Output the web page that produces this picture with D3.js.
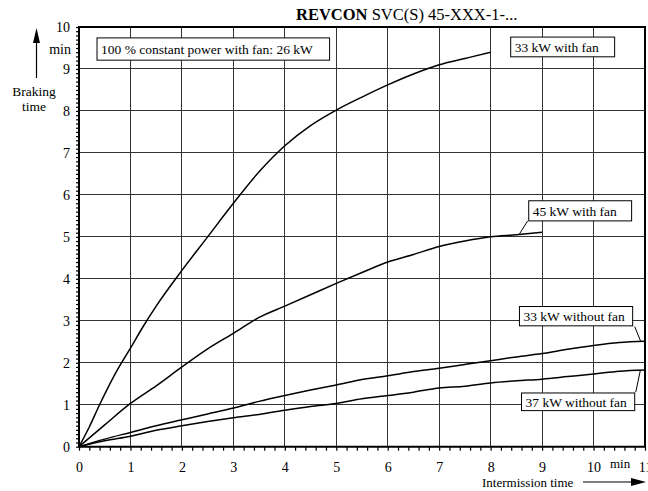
<!DOCTYPE html>
<html>
<head>
<meta charset="utf-8">
<script src="https://cdn.jsdelivr.net/npm/d3@7"></script>
<style>
  body { margin: 0; background: #fff; }
  svg { display: block; }
</style>
</head>
<body>
<div id="mychart"></div>
<script>
// curves: [intermission time (min), braking time (min)]
const fan33 = [[0,0],[0.2,0.47],[0.4,1.0],[0.7,1.73],[1,2.35],[1.25,2.87],[1.5,3.35],[2,4.2],[2.5,5.0],[3,5.8],[3.5,6.55],[4,7.17],[4.5,7.65],[5,8.02],[5.5,8.33],[6,8.62],[6.5,8.88],[7,9.1],[7.5,9.25],[8,9.4]];
const fan45 = [[0,0],[0.5,0.52],[1,1.03],[1.5,1.45],[2,1.9],[2.5,2.33],[3,2.7],[3.5,3.08],[4,3.35],[4.5,3.62],[5,3.89],[5.5,4.15],[6,4.4],[6.5,4.58],[7,4.77],[7.5,4.9],[8,5.0],[8.5,5.05],[9,5.11]];
const nofan33 = [[0,0],[0.5,0.18],[1,0.34],[1.5,0.5],[2,0.64],[2.5,0.78],[3,0.92],[3.5,1.08],[4,1.22],[4.5,1.35],[5,1.47],[5.5,1.6],[6,1.69],[6.5,1.79],[7,1.87],[7.5,1.96],[8,2.05],[8.5,2.14],[9,2.22],[9.5,2.32],[10,2.41],[10.5,2.48],[11,2.51]];
const nofan37 = [[0,0],[0.5,0.14],[1,0.25],[1.5,0.39],[2,0.5],[2.5,0.6],[3,0.69],[3.5,0.77],[4,0.87],[4.5,0.96],[5,1.03],[5.5,1.14],[6,1.22],[6.5,1.3],[7,1.4],[7.5,1.44],[8,1.52],[8.5,1.57],[9,1.61],[9.5,1.67],[10,1.73],[10.5,1.8],[11,1.83]];

const xTicks = d3.range(0, 12);
const yTicks = d3.range(0, 11);

// label boxes in data units: text, [x0, x1], [yTop, yBottom], leader [[x,y],[x,y]] or null
const labels = [
  { text: "100 % constant power with fan: 26 kW", bx: [0.35, 4.87], by: [9.74, 9.21], leader: null },
  { text: "33 kW with fan", bx: [8.39, 10.41], by: [9.76, 9.29], leader: null },
  { text: "45 kW with fan", bx: [8.74, 10.74], by: [5.86, 5.38], leader: [[8.72, 5.38], [8.56, 5.07]] },
  { text: "33 kW without fan", bx: [8.56, 10.76], by: [3.34, 2.88], leader: [[10.8, 2.86], [10.92, 2.5]] },
  { text: "37 kW without fan", bx: [8.6, 10.8], by: [1.28, 0.86], leader: [[10.82, 1.3], [10.91, 1.82]] }
];

const width = 648;
const height = 491;
const font = "'Liberation Serif', 'Times New Roman', serif";

const x = d3.scaleLinear().domain([0, 11]).range([79, 645]);
const y = d3.scaleLinear().domain([0, 10]).range([446.7, 27]);

const svg = d3.select("#mychart")
  .append("svg")
    .attr("width", width)
    .attr("height", height)
    .style("font-family", font);

// grid
const grid = svg.append("g").attr("stroke", "#333").attr("stroke-width", 1).attr("shape-rendering", "crispEdges");
grid.selectAll("line.v")
  .data(xTicks.filter(d => d > 0 && d < 11))
  .join("line")
    .attr("class", "v")
    .attr("x1", d => x(d)).attr("x2", d => x(d))
    .attr("y1", y(0)).attr("y2", y(10));
grid.selectAll("line.h")
  .data(yTicks.filter(d => d > 0 && d < 10))
  .join("line")
    .attr("class", "h")
    .attr("x1", x(0)).attr("x2", x(11))
    .attr("y1", d => y(d)).attr("y2", d => y(d));

svg.append("rect")
  .attr("x", x(0)).attr("y", y(10))
  .attr("width", x(11) - x(0)).attr("height", y(0) - y(10))
  .attr("fill", "none").attr("stroke", "#000").attr("stroke-width", 1.2)
  .attr("shape-rendering", "crispEdges");

const isInt = d => Math.abs(d - Math.round(d)) < 1e-9;

// axes
const yAxis = svg.append("g")
  .attr("transform", `translate(${x(0)},0)`)
  .call(d3.axisLeft(y)
    .tickValues(d3.range(0, 101).map(d => d / 10))
    .tickSize(3)
    .tickPadding(6)
    .tickFormat(d => isInt(d) ? d3.format("d")(d) : ""));
yAxis.select(".domain").remove();
yAxis.selectAll(".tick line").attr("stroke", "#000").attr("stroke-width", 1.2);
yAxis.selectAll("text").style("font-family", font).attr("font-size", 14).attr("fill", "#000");

const xAxis = svg.append("g")
  .attr("transform", `translate(0,${y(0)})`)
  .call(d3.axisBottom(x)
    .tickValues(d3.range(0, 56).map(d => d / 5))
    .tickSize(4)
    .tickPadding(11)
    .tickFormat(d => isInt(d) ? d3.format("d")(d) : ""));
xAxis.select(".domain").remove();
xAxis.selectAll(".tick line").attr("stroke", "#000").attr("stroke-width", 1.2);
xAxis.selectAll("text").style("font-family", font).attr("font-size", 14).attr("fill", "#000");

svg.append("line")
  .attr("x1", x(0)).attr("x2", x(11))
  .attr("y1", y(0)).attr("y2", y(0))
  .attr("stroke", "#000").attr("stroke-width", 2);
svg.append("line")
  .attr("x1", x(0)).attr("x2", x(0))
  .attr("y1", y(0)).attr("y2", y(10))
  .attr("stroke", "#000").attr("stroke-width", 2);

// curves
const line = d3.line()
  .x(d => x(d[0]))
  .y(d => y(d[1]))
  .curve(d3.curveMonotoneX);

svg.append("g")
  .attr("fill", "none")
  .attr("stroke", "#000")
  .attr("stroke-width", 1.5)
  .selectAll("path")
  .data([fan33, fan45, nofan33, nofan37])
  .join("path")
    .attr("d", line);

// labels
const lab = svg.append("g").attr("font-size", 13.5);
labels.forEach(l => {
  if (l.leader) {
    lab.append("line")
      .attr("x1", x(l.leader[0][0])).attr("y1", y(l.leader[0][1]))
      .attr("x2", x(l.leader[1][0])).attr("y2", y(l.leader[1][1]))
      .attr("stroke", "#000").attr("stroke-width", 1);
  }
  lab.append("rect")
    .attr("x", x(l.bx[0])).attr("y", y(l.by[0]))
    .attr("width", x(l.bx[1]) - x(l.bx[0]))
    .attr("height", y(l.by[1]) - y(l.by[0]))
    .attr("fill", "#fff").attr("stroke", "#000").attr("stroke-width", 1);
  lab.append("text")
    .attr("x", x(l.bx[0]) + 4)
    .attr("y", (y(l.by[0]) + y(l.by[1])) / 2)
    .attr("dy", "0.35em")
    .text(l.text);
});

// title
const title = svg.append("text")
  .attr("x", 296).attr("y", 20)
  .attr("font-size", 16.5);
title.append("tspan").attr("font-weight", "bold").text("REVCON");
title.append("tspan").text(" SVC(S) 45-XXX-1-...");

// y axis caption
svg.append("text").attr("x", 71).attr("y", 54).attr("text-anchor", "end").attr("font-size", 14).text("min");
svg.append("line").attr("x1", 36.5).attr("x2", 36.5).attr("y1", 40).attr("y2", 78).attr("stroke", "#000").attr("stroke-width", 1.2);
svg.append("path").attr("d", "M36.5,28 L33,43 L40,43 Z").attr("fill", "#000");
svg.append("text").attr("x", 34).attr("y", 96).attr("text-anchor", "middle").attr("font-size", 13.5).text("Braking");
svg.append("text").attr("x", 34).attr("y", 111).attr("text-anchor", "middle").attr("font-size", 13.5).text("time");

// x axis caption
svg.append("text").attr("x", 610).attr("y", 468).attr("font-size", 13).text("min");
svg.append("text").attr("x", 482).attr("y", 487).attr("font-size", 13).text("Intermission time");
svg.append("line").attr("x1", 583).attr("x2", 634).attr("y1", 482).attr("y2", 482).attr("stroke", "#000").attr("stroke-width", 1.2);
svg.append("path").attr("d", "M646,482 L631,478 L631,486 Z").attr("fill", "#000");
</script>
</body>
</html>
